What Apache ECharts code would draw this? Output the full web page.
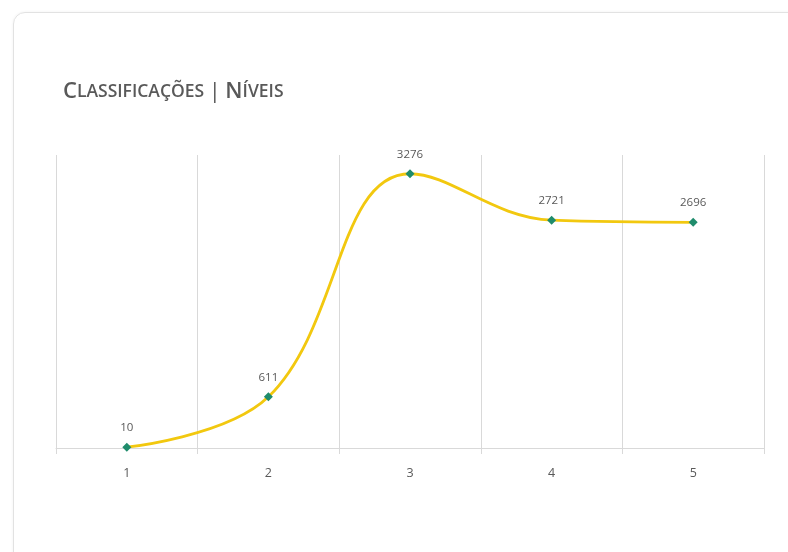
<!DOCTYPE html>
<html>
<head>
<meta charset="utf-8">
<script src="https://cdn.jsdelivr.net/npm/echarts@6/dist/echarts.min.js"></script>
<style>
  html, body { margin: 0; padding: 0; background: #fff; }
  #wrap { position: relative; width: 788px; height: 552px; overflow: hidden; }
  .card {
    position: absolute; left: 13px; top: 12px; width: 900px; height: 600px;
    border: 1px solid #e2e2e2; border-radius: 12px;
    box-shadow: 0 0 3px rgba(0,0,0,0.06);
  }
  #main { position: absolute; left: 0; top: 0; width: 788px; height: 552px; }
</style>
</head>
<body>
<div id="wrap">
  <div class="card"></div>
  <div id="main"></div>
</div>
<script>
// 数据
const categories = ['1', '2', '3', '4', '5'];
const values = [10, 611, 3276, 2721, 2696];

const chart = echarts.init(document.getElementById('main'), null, { renderer: 'canvas' });
const option = {
  animation: false,
  title: {
    left: 58,
    top: 76,
    text: '{big|C}{small|LASSIFICAÇÕES }{bar||}{small| }{big|N}{small|ÍVEIS}',
    textStyle: {
      rich: {
        big: { fontSize: 22, fontWeight: 600, color: '#595959', fontFamily: 'Open Sans' },
        small: { fontSize: 17.5, fontWeight: 600, color: '#595959', fontFamily: 'Open Sans' },
        bar: { fontSize: 22, fontWeight: 400, color: '#595959', fontFamily: 'Open Sans' },
      },
    },
  },
  grid: {
    left: 56,
    right: 24,
    top: 155,
    bottom: 104,
  },
  xAxis: {
    type: 'category',
    data: categories,
    boundaryGap: true,
    axisLine: { lineStyle: { color: '#d9d9d9', width: 1 } },
    axisTick: { show: true, length: 6, lineStyle: { color: '#d9d9d9' } },
    axisLabel: { color: '#595959', fontSize: 12.5, margin: 19, fontFamily: 'Open Sans' },
    splitLine: { show: true, lineStyle: { color: '#d9d9d9', width: 1 } },
  },
  yAxis: {
    type: 'value',
    min: 0,
    max: 3500,
    show: false,
    splitLine: { show: false },
  },
  series: [
    {
      type: 'line',
      data: values,
      smooth: 0.4,
      symbol: 'diamond',
      symbolSize: 9,
      lineStyle: { color: '#f2c80f', width: 2.8 },
      itemStyle: { color: '#1f8c6c' },
      label: {
        show: true,
        position: 'top',
        distance: 9,
        color: '#595959',
        fontSize: 11.5,
        fontFamily: 'Open Sans',
      },
      z: 3,
    },
  ],
};
chart.setOption(option);
</script>
</body>
</html>
